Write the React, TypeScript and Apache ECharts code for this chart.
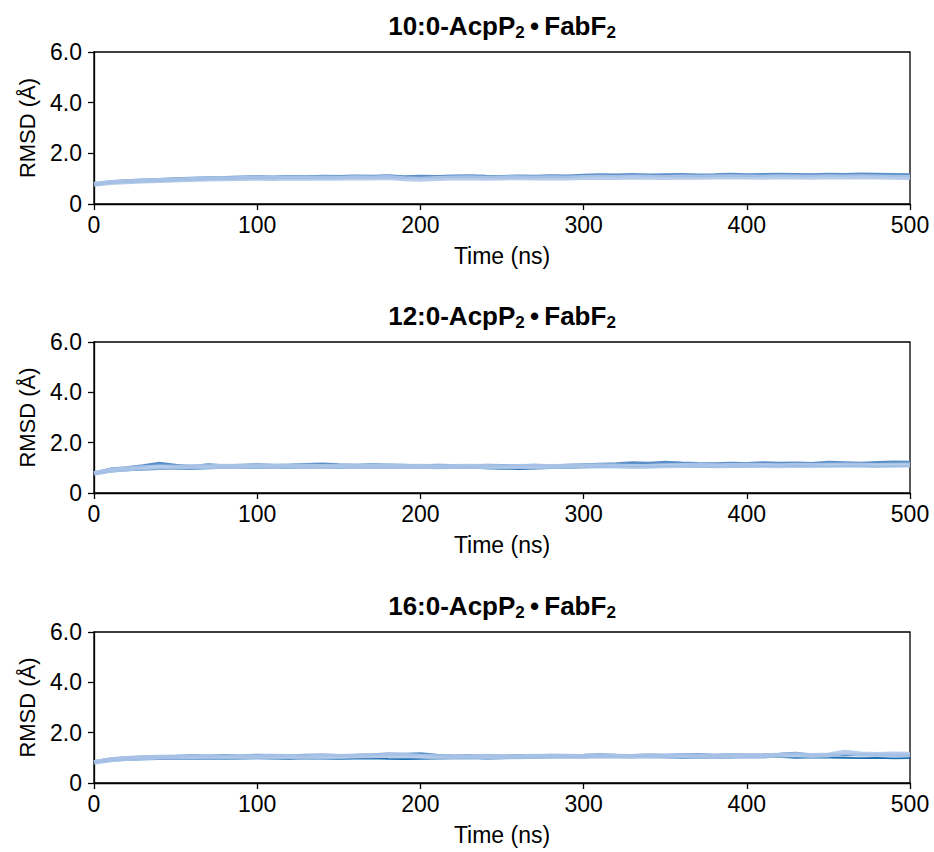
import React, { useEffect, useRef } from "react";
import * as echarts from "echarts";

const times = [0,10,20,30,40,50,60,70,80,90,100,110,120,130,140,150,160,170,180,190,200,210,220,230,240,250,260,270,280,290,300,310,320,330,340,350,360,370,380,390,400,410,420,430,440,450,460,470,480,490,500];

const xTicks = [0, 100, 200, 300, 400, 500];
const yTicks = [0, 2, 4, 6];

const panelTitles = ["10:0", "12:0", "16:0"];

// 10:0 system
const dark10 = [0.75,0.82,0.86,0.88,0.90,0.93,0.95,0.97,0.98,1.00,1.02,1.00,1.03,1.02,1.04,1.03,1.05,1.04,1.06,1.03,1.05,1.04,1.06,1.07,1.05,1.04,1.06,1.05,1.07,1.06,1.10,1.12,1.13,1.14,1.12,1.10,1.11,1.09,1.10,1.12,1.10,1.11,1.13,1.12,1.11,1.13,1.12,1.14,1.13,1.12,1.10];
const medium10 = [0.80,0.88,0.92,0.95,0.97,1.00,1.02,1.04,1.05,1.07,1.08,1.07,1.09,1.08,1.10,1.09,1.11,1.10,1.12,1.08,1.10,1.09,1.11,1.12,1.10,1.09,1.11,1.10,1.12,1.11,1.13,1.15,1.14,1.16,1.14,1.15,1.16,1.14,1.15,1.17,1.15,1.16,1.17,1.16,1.15,1.17,1.16,1.18,1.17,1.16,1.15];
const light10 = [0.78,0.85,0.88,0.91,0.93,0.95,0.97,0.99,1.00,1.01,1.02,1.01,1.03,1.02,1.03,1.02,1.04,1.03,1.05,1.00,0.98,1.01,1.03,1.04,1.02,1.03,1.04,1.03,1.04,1.03,1.05,1.06,1.05,1.07,1.06,1.05,1.07,1.06,1.07,1.08,1.07,1.06,1.08,1.07,1.06,1.08,1.07,1.08,1.07,1.06,1.05];

// 12:0 system
const dark12 = [0.75,0.85,0.90,0.93,0.95,0.97,0.96,0.98,1.00,0.99,1.00,1.01,1.00,1.02,1.01,1.00,1.02,1.01,1.00,1.01,1.00,0.99,1.00,1.01,0.98,0.96,0.95,0.97,0.99,1.00,1.02,1.04,1.05,1.06,1.05,1.07,1.06,1.05,1.04,1.05,1.06,1.07,1.06,1.08,1.07,1.06,1.08,1.07,1.06,1.07,1.08];
const medium12 = [0.80,0.95,1.00,1.08,1.18,1.10,1.05,1.12,1.08,1.10,1.12,1.10,1.11,1.13,1.15,1.12,1.10,1.12,1.11,1.10,1.08,1.10,1.09,1.07,1.10,1.09,1.08,1.10,1.07,1.10,1.12,1.14,1.16,1.20,1.18,1.22,1.19,1.17,1.16,1.18,1.17,1.20,1.18,1.19,1.17,1.22,1.20,1.18,1.21,1.23,1.22];
const light12 = [0.78,0.90,0.95,1.00,1.03,1.02,1.05,1.04,1.06,1.05,1.06,1.05,1.07,1.06,1.05,1.06,1.07,1.05,1.06,1.05,1.06,1.04,1.05,1.06,1.05,1.04,1.05,1.06,1.05,1.06,1.07,1.08,1.07,1.05,1.06,1.08,1.09,1.10,1.08,1.09,1.10,1.09,1.08,1.10,1.09,1.10,1.11,1.10,1.09,1.10,1.11];

// 16:0 system
const dark16 = [0.80,0.88,0.92,0.94,0.95,0.96,0.95,0.97,0.96,0.97,0.98,0.97,0.96,0.98,0.97,0.96,0.97,0.98,0.96,0.95,0.96,0.97,0.98,0.99,0.97,0.98,1.00,0.99,1.02,1.04,1.03,1.05,1.04,1.06,1.05,1.02,1.00,1.01,1.02,1.01,1.03,1.02,1.04,1.00,1.02,1.01,1.00,0.99,1.00,0.98,0.99];
const medium16 = [0.85,0.95,1.00,1.03,1.05,1.06,1.08,1.07,1.09,1.08,1.10,1.09,1.08,1.10,1.11,1.09,1.10,1.12,1.15,1.14,1.16,1.10,1.08,1.09,1.08,1.07,1.09,1.08,1.10,1.09,1.10,1.12,1.10,1.09,1.11,1.10,1.12,1.13,1.10,1.12,1.11,1.12,1.14,1.18,1.10,1.12,1.11,1.13,1.12,1.11,1.10];
const light16 = [0.82,0.92,0.97,1.00,1.02,1.03,1.02,1.04,1.03,1.05,1.04,1.06,1.05,1.04,1.06,1.05,1.07,1.08,1.09,1.10,1.06,1.04,1.05,1.04,1.06,1.05,1.04,1.06,1.05,1.06,1.05,1.07,1.06,1.05,1.07,1.06,1.08,1.07,1.06,1.08,1.07,1.08,1.10,1.12,1.09,1.11,1.22,1.15,1.13,1.15,1.14];

const panels = [
  [dark10, medium10, light10],
  [dark12, medium12, light12],
  [dark16, medium16, light16],
];

const seriesColors = ["#1f6fb2", "#5b8fc9", "#aec7e8"];
const seriesWidths = [1.8, 3, 5];

const FONT = "'Liberation Sans', Arial, Helvetica, sans-serif";

export default function App() {
  const ref = useRef<HTMLDivElement>(null);
  useEffect(() => {
    if (!ref.current) return;
    const chart = echarts.init(ref.current, undefined, { renderer: "svg" });
    const tops = [52, 342, 632];
    const heights = [152, 151, 151];
    const grids = tops.map((t, i) => ({
      left: 94,
      top: t,
      width: 816,
      height: heights[i],
      show: true,
      borderColor: "#000",
      borderWidth: 1.3,
      backgroundColor: "transparent",
    }));
    const xAxes = tops.map((_, i) => ({
      type: "value",
      gridIndex: i,
      min: xTicks[0],
      max: xTicks[xTicks.length - 1],
      interval: 100,
      name: "Time (ns)",
      nameLocation: "middle",
      nameGap: 40,
      nameTextStyle: { color: "#000", fontSize: 23, fontFamily: FONT },
      axisLine: { show: true, lineStyle: { color: "#000", width: 1.3 } },
      axisTick: { show: true, length: 6, lineStyle: { color: "#000", width: 1.3 } },
      axisLabel: { color: "#000", fontSize: 23, fontFamily: FONT, margin: 9 },
      splitLine: { show: false },
    }));
    const yAxes = tops.map((_, i) => ({
      type: "value",
      gridIndex: i,
      min: yTicks[0],
      max: yTicks[yTicks.length - 1],
      interval: 2,
      name: "RMSD (Å)",
      nameLocation: "middle",
      nameGap: 56,
      nameTextStyle: { color: "#000", fontSize: 22, fontFamily: FONT },
      axisLine: { show: true, lineStyle: { color: "#000", width: 1.3 } },
      axisTick: { show: true, length: 6, lineStyle: { color: "#000", width: 1.3 } },
      axisLabel: {
        color: "#000",
        fontSize: 23,
        fontFamily: FONT,
        margin: 12,
        formatter: (v: number) => (v === 0 ? "0" : v.toFixed(1)),
      },
      splitLine: { show: false },
    }));
    const series: any[] = [];
    panels.forEach((p, i) => {
      p.forEach((arr, k) => {
        series.push({
          type: "line",
          xAxisIndex: i,
          yAxisIndex: i,
          showSymbol: false,
          symbol: "none",
          data: times.map((t, j) => [t, arr[j]]),
          lineStyle: { color: seriesColors[k], width: seriesWidths[k], opacity: k === 2 ? 0.9 : 1 },
          z: 2 + k,
        });
      });
    });
    const graphic = tops.map((t, i) => ({
      type: "text",
      x: 502,
      y: t - 26,
      style: {
        text: `{b|${panelTitles[i]}-AcpP}{s|2}{b|\u2009•\u2009FabF}{s|2}`,
        align: "center",
        verticalAlign: "middle",
        rich: {
          b: { fontSize: 26, fontWeight: "bold", fontFamily: FONT, fill: "#000", lineHeight: 30 },
          s: { fontSize: 17, fontWeight: "bold", fontFamily: FONT, fill: "#000", lineHeight: 16, verticalAlign: "bottom" },
        },
      },
    }));
    chart.setOption({
      animation: false,
      backgroundColor: "#fff",
      grid: grids,
      xAxis: xAxes,
      yAxis: yAxes,
      series,
      graphic,
    });
    return () => chart.dispose();
  }, []);
  return (
    <div
      ref={ref}
      style={{ position: "fixed", left: 0, top: 0, width: 934, height: 852 }}
    />
  );
}
